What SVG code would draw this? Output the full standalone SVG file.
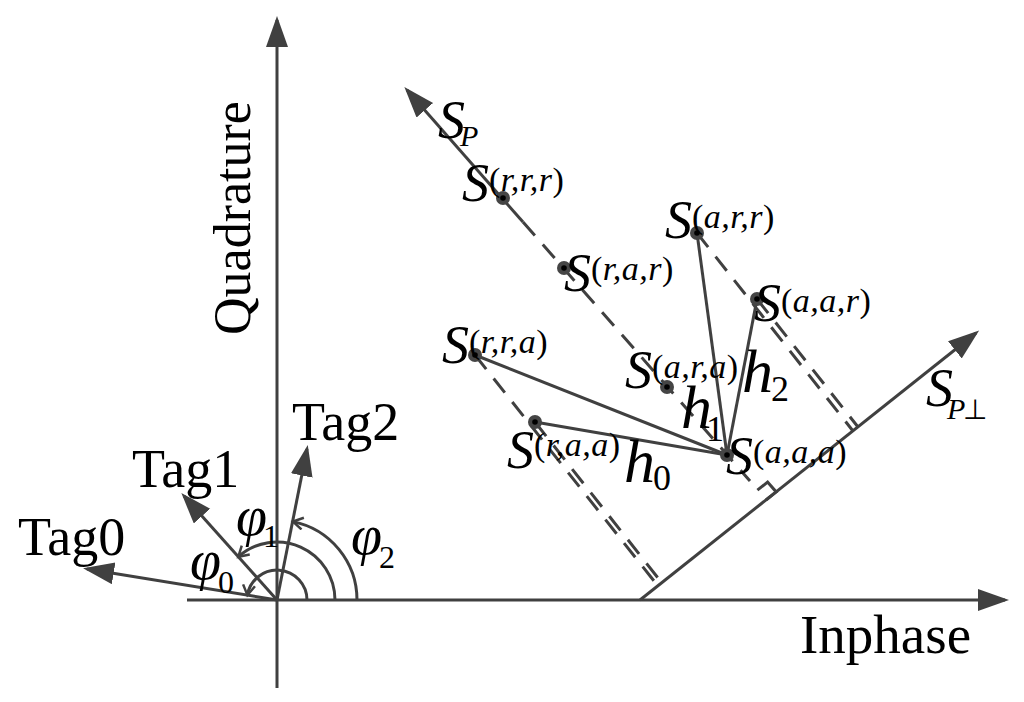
<svg xmlns="http://www.w3.org/2000/svg" width="1024" height="702" viewBox="0 0 1024 702">
<style>
.ln{stroke:#404040;stroke-width:3;fill:none}
.dl{stroke:#404040;stroke-width:3;fill:none;stroke-dasharray:18 12}
.t{font-family:"Liberation Serif","Times New Roman",serif;fill:#000}
.it{font-style:italic}
.up{font-style:normal}
.sup{font-size:34px;letter-spacing:0.5px}
.dot{fill:#454545}
.dc{fill:#000}
</style>
<defs>
<marker id="ah" markerUnits="userSpaceOnUse" markerWidth="32" markerHeight="24" refX="27" refY="11" orient="auto">
<path d="M0,0 L31,11 L0,22 z" fill="#404040"/>
</marker>
<marker id="ch" markerUnits="userSpaceOnUse" markerWidth="16" markerHeight="16" refX="11" refY="7" orient="auto">
<path d="M1,1 L11,7 L1,13" fill="none" stroke="#404040" stroke-width="2.5"/>
</marker>
</defs>

<g id="axes">
<line class="ln" x1="277" y1="688" x2="277" y2="20" marker-end="url(#ah)"/>
<line class="ln" x1="187" y1="600" x2="1005" y2="600" marker-end="url(#ah)"/>
<text class="t" x="250" y="218" font-size="52" text-anchor="middle" transform="rotate(-90 250 218)">Quadrature</text>
<text class="t" x="800" y="653" font-size="55">Inphase</text>
</g>

<g id="tag0">
<line class="ln" x1="277" y1="600" x2="87" y2="569" marker-end="url(#ah)"/>
<text class="t" x="18" y="555" font-size="54">Tag0</text>
</g>
<g id="tag1">
<line class="ln" x1="277" y1="600" x2="184" y2="496" marker-end="url(#ah)"/>
<text class="t" x="132" y="487" font-size="54">Tag1</text>
</g>
<g id="tag2">
<line class="ln" x1="277" y1="600" x2="307" y2="449" marker-end="url(#ah)"/>
<text class="t" x="292" y="440" font-size="54">Tag2</text>
</g>

<g id="angles">
<path class="ln" d="M307,600 A30,30 0 0 0 247.4,595.2" marker-end="url(#ch)"/>
<path class="ln" d="M335,600 A58,58 0 0 0 238.3,556.8" marker-end="url(#ch)"/>
<path class="ln" d="M357,600 A80,80 0 0 0 292.9,521.6" marker-end="url(#ch)"/>
<text class="t it" x="190" y="579" font-size="56">φ<tspan class="up" font-size="32" dx="-3" dy="14">0</tspan></text>
<text class="t it" x="236" y="535" font-size="56">φ<tspan class="up" font-size="32" dx="-4" dy="12">1</tspan></text>
<text class="t it" x="351" y="554" font-size="56">φ<tspan class="up" font-size="32" dx="-3" dy="14">2</tspan></text>
</g>

<g id="connectors">
<line class="ln" x1="523" y1="222" x2="407" y2="90" marker-end="url(#ah)"/>
<line class="dl" x1="523" y1="222" x2="750" y2="481"/>
<line class="ln" x1="640" y1="600" x2="976" y2="333" marker-end="url(#ah)"/>
<path class="ln" d="M766,500 L776.2,491.9 L767.6,482.1 L757.4,490.2"/>
<line class="dl" x1="475" y1="355" x2="658" y2="586"/>
<line class="dl" x1="535" y1="422" x2="662" y2="583"/>
<line class="dl" x1="697" y1="233" x2="853" y2="431"/>
<line class="dl" x1="757" y1="299" x2="858" y2="427"/>
<line class="ln" x1="727" y1="455" x2="475" y2="355"/>
<line class="ln" x1="727" y1="455" x2="535" y2="422"/>
<line class="ln" x1="727" y1="455" x2="697" y2="233"/>
<line class="ln" x1="727" y1="455" x2="757" y2="299"/>
<text class="t it" x="624" y="482" font-size="62">h<tspan class="up" font-size="36" dx="-2" dy="8">0</tspan></text>
<text class="t it" x="681" y="428" font-size="62">h<tspan class="up" font-size="36" dx="-6" dy="13">1</tspan></text>
<text class="t it" x="742" y="392" font-size="62">h<tspan class="up" font-size="36" dx="-2" dy="9">2</tspan></text>
</g>

<g id="sp-label">
<text class="t it" x="438" y="138" font-size="54">S<tspan font-size="30" dx="-5" dy="8">P</tspan></text>
</g>
<g id="spperp-label">
<text class="t it" x="926" y="406" font-size="54">S<tspan font-size="30" dx="-6" dy="13">P</tspan><tspan class="up" font-size="28" dx="-2">⊥</tspan></text>
</g>

<g id="s-rrr">
<circle class="dot" cx="503" cy="198" r="7"/><circle class="dc" cx="503" cy="198" r="2.8"/>
<text class="t it" x="462" y="201" font-size="54">S<tspan class="sup" dy="-10"><tspan class="up">(</tspan>r,r,r<tspan class="up">)</tspan></tspan></text>
</g>
<g id="s-rar">
<circle class="dot" cx="564" cy="268" r="7"/><circle class="dc" cx="564" cy="268" r="2.8"/>
<text class="t it" x="564" y="291" font-size="54">S<tspan class="sup" dy="-11"><tspan class="up">(</tspan>r,a,r<tspan class="up">)</tspan></tspan></text>
</g>
<g id="s-arr">
<circle class="dot" cx="697" cy="233" r="7"/><circle class="dc" cx="697" cy="233" r="2.8"/>
<text class="t it" x="665" y="238" font-size="54">S<tspan class="sup" dy="-10"><tspan class="up">(</tspan>a,r,r<tspan class="up">)</tspan></tspan></text>
</g>
<g id="s-aar">
<circle class="dot" cx="757" cy="299" r="7"/><circle class="dc" cx="757" cy="299" r="2.8"/>
<text class="t it" x="754" y="321" font-size="54">S<tspan class="sup" dy="-9"><tspan class="up">(</tspan>a,a,r<tspan class="up">)</tspan></tspan></text>
</g>
<g id="s-rra">
<circle class="dot" cx="475" cy="355" r="7"/><circle class="dc" cx="475" cy="355" r="2.8"/>
<text class="t it" x="442" y="363" font-size="54">S<tspan class="sup" dy="-10"><tspan class="up">(</tspan>r,r,a<tspan class="up">)</tspan></tspan></text>
</g>
<g id="s-raa">
<circle class="dot" cx="535" cy="422" r="7"/><circle class="dc" cx="535" cy="422" r="2.8"/>
<text class="t it" x="507" y="468" font-size="54">S<tspan class="sup" dy="-12"><tspan class="up">(</tspan>r,a,a<tspan class="up">)</tspan></tspan></text>
</g>
<g id="s-ara">
<circle class="dot" cx="667" cy="387" r="7"/><circle class="dc" cx="667" cy="387" r="2.8"/>
<text class="t it" x="625" y="388" font-size="54">S<tspan class="sup" dy="-10"><tspan class="up">(</tspan>a,r,a<tspan class="up">)</tspan></tspan></text>
</g>
<g id="s-aaa">
<circle class="dot" cx="727" cy="455" r="7"/><circle class="dc" cx="727" cy="455" r="2.8"/>
<text class="t it" x="726" y="474" font-size="54">S<tspan class="sup" dy="-11"><tspan class="up">(</tspan>a,a,a<tspan class="up">)</tspan></tspan></text>
</g>
</svg>
